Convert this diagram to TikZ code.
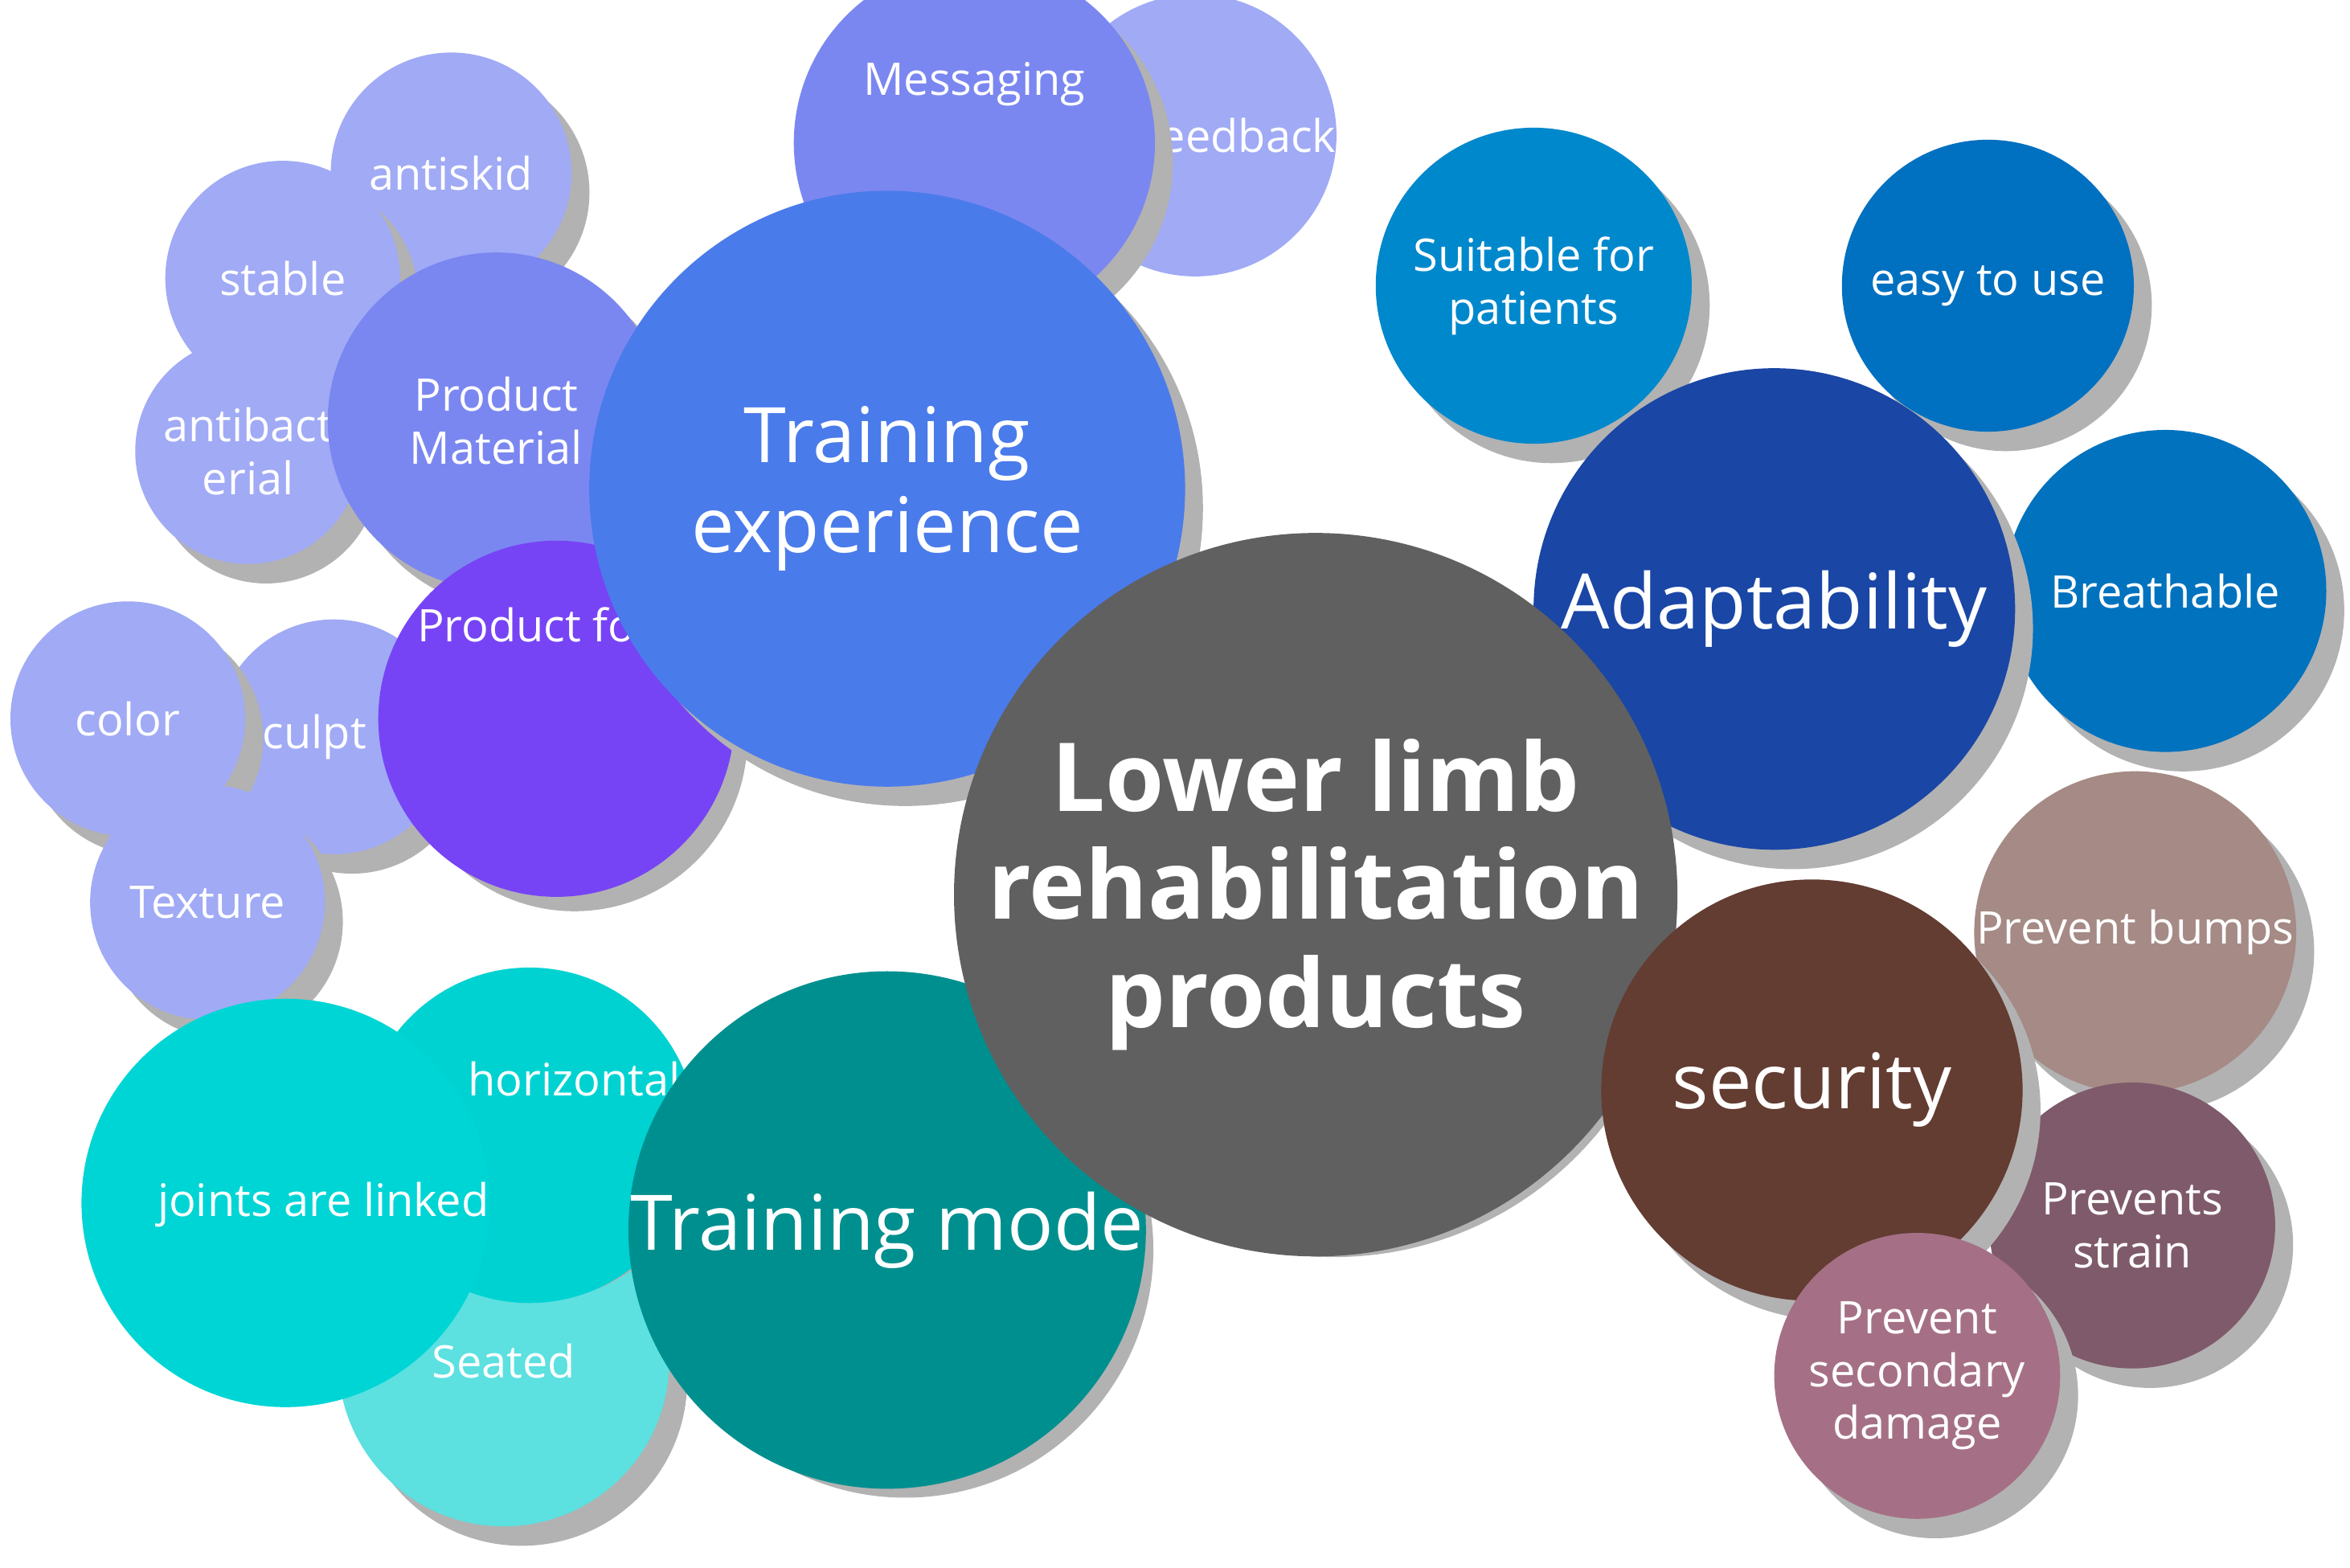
\documentclass[tikz,border=0pt]{standalone}
\usepackage{fontspec}
\setmainfont{Open Sans}
\begin{document}
\newcommand\mybub[7]{%
 \definecolor{col#1}{HTML}{#5}%
 \fill[shadowc] (#2*0.01+0.12,-#3*0.01-0.13) circle (#4*0.01);
 \node[circle,fill=col#1,minimum size=#4*0.02cm,inner sep=0pt,text=white,align=center,font=#7] (#1) at (#2*0.01,-#3*0.01) {#6};}
\begin{tikzpicture}
\tikzset{shadowc/.style={fill=black!30}}
\useasboundingbox (0,0) rectangle (15.62,-10.42);
\fill[white] (0,0) rectangle (15.62,-10.42);
\def\sm{\fontsize{8.5}{10}\selectfont}
\def\md{\fontsize{14.5}{17}\selectfont}
\mybub{fb}{795}{90}{75}{A0AAF5}{\hspace*{6mm}feedback}{\sm}
\mybub{msg}{648}{95}{120}{7B87F0}{Messaging\\[5mm]}{\sm}
\mybub{anti}{300}{115}{80}{A0AAF5}{antiskid}{\sm}
\mybub{stab}{188}{185}{78}{A0AAF5}{stable}{\sm}
\mybub{antb}{165}{300}{75}{A0AAF5}{antibact\\erial}{\sm}
\mybub{pm}{330}{280}{112}{7B87F0}{Product\\Material}{\sm}
\mybub{sculpt}{222}{490}{78}{A0AAF5}{\hspace*{-4mm}sculpt}{\sm}
\mybub{col}{85}{478}{78}{A0AAF5}{color}{\sm}
\mybub{tex}{138}{600}{78}{A0AAF5}{Texture}{\sm}
\mybub{pf}{370}{478}{115}{7744F5}{Product form\\[9mm]}{\sm}
\mybub{te}{590}{325}{198}{4A7BEB}{Training\\experience}{\md}
\mybub{sfp}{1020}{190}{105}{0088CC}{Suitable for\\patients}{\sm}
\mybub{etu}{1322}{190}{97}{0070C0}{easy to use}{\sm}
\mybub{br}{1440}{393}{107}{0072BE}{Breathable}{\sm}
\mybub{ad}{1180}{405}{160}{1A46A5}{Adaptability}{\md}
\mybub{seat}{335}{905}{110}{5CE0E0}{Seated}{\sm}
\mybub{hor}{352}{755}{95}{00D2D2}{\hspace*{6mm}horizontal\\[4mm]}{\sm}
\mybub{jl}{190}{800}{93}{00D5D5}{\hspace*{5mm}joints are linked\\[-3mm]}{\sm}
\mybub{tm}{590}{818}{165}{008F8F}{Training mode}{\md}
\mybub{c}{875}{595}{228}{606060}{\textbf{Lower limb}\\\textbf{rehabilitation}\\\textbf{products}}{\fontsize{18}{20.5}\selectfont}
\mybub{pb}{1420}{620}{107}{A58A85}{Prevent bumps}{\sm}
\mybub{ps}{1418}{815}{95}{7F5A6A}{Prevents\\strain}{\sm}
\mybub{sec}{1205}{725}{140}{633C32}{security}{\md}
\mybub{psd}{1275}{915}{95}{A57085}{Prevent\\secondary\\damage}{\sm}
\end{tikzpicture}
\end{document}
